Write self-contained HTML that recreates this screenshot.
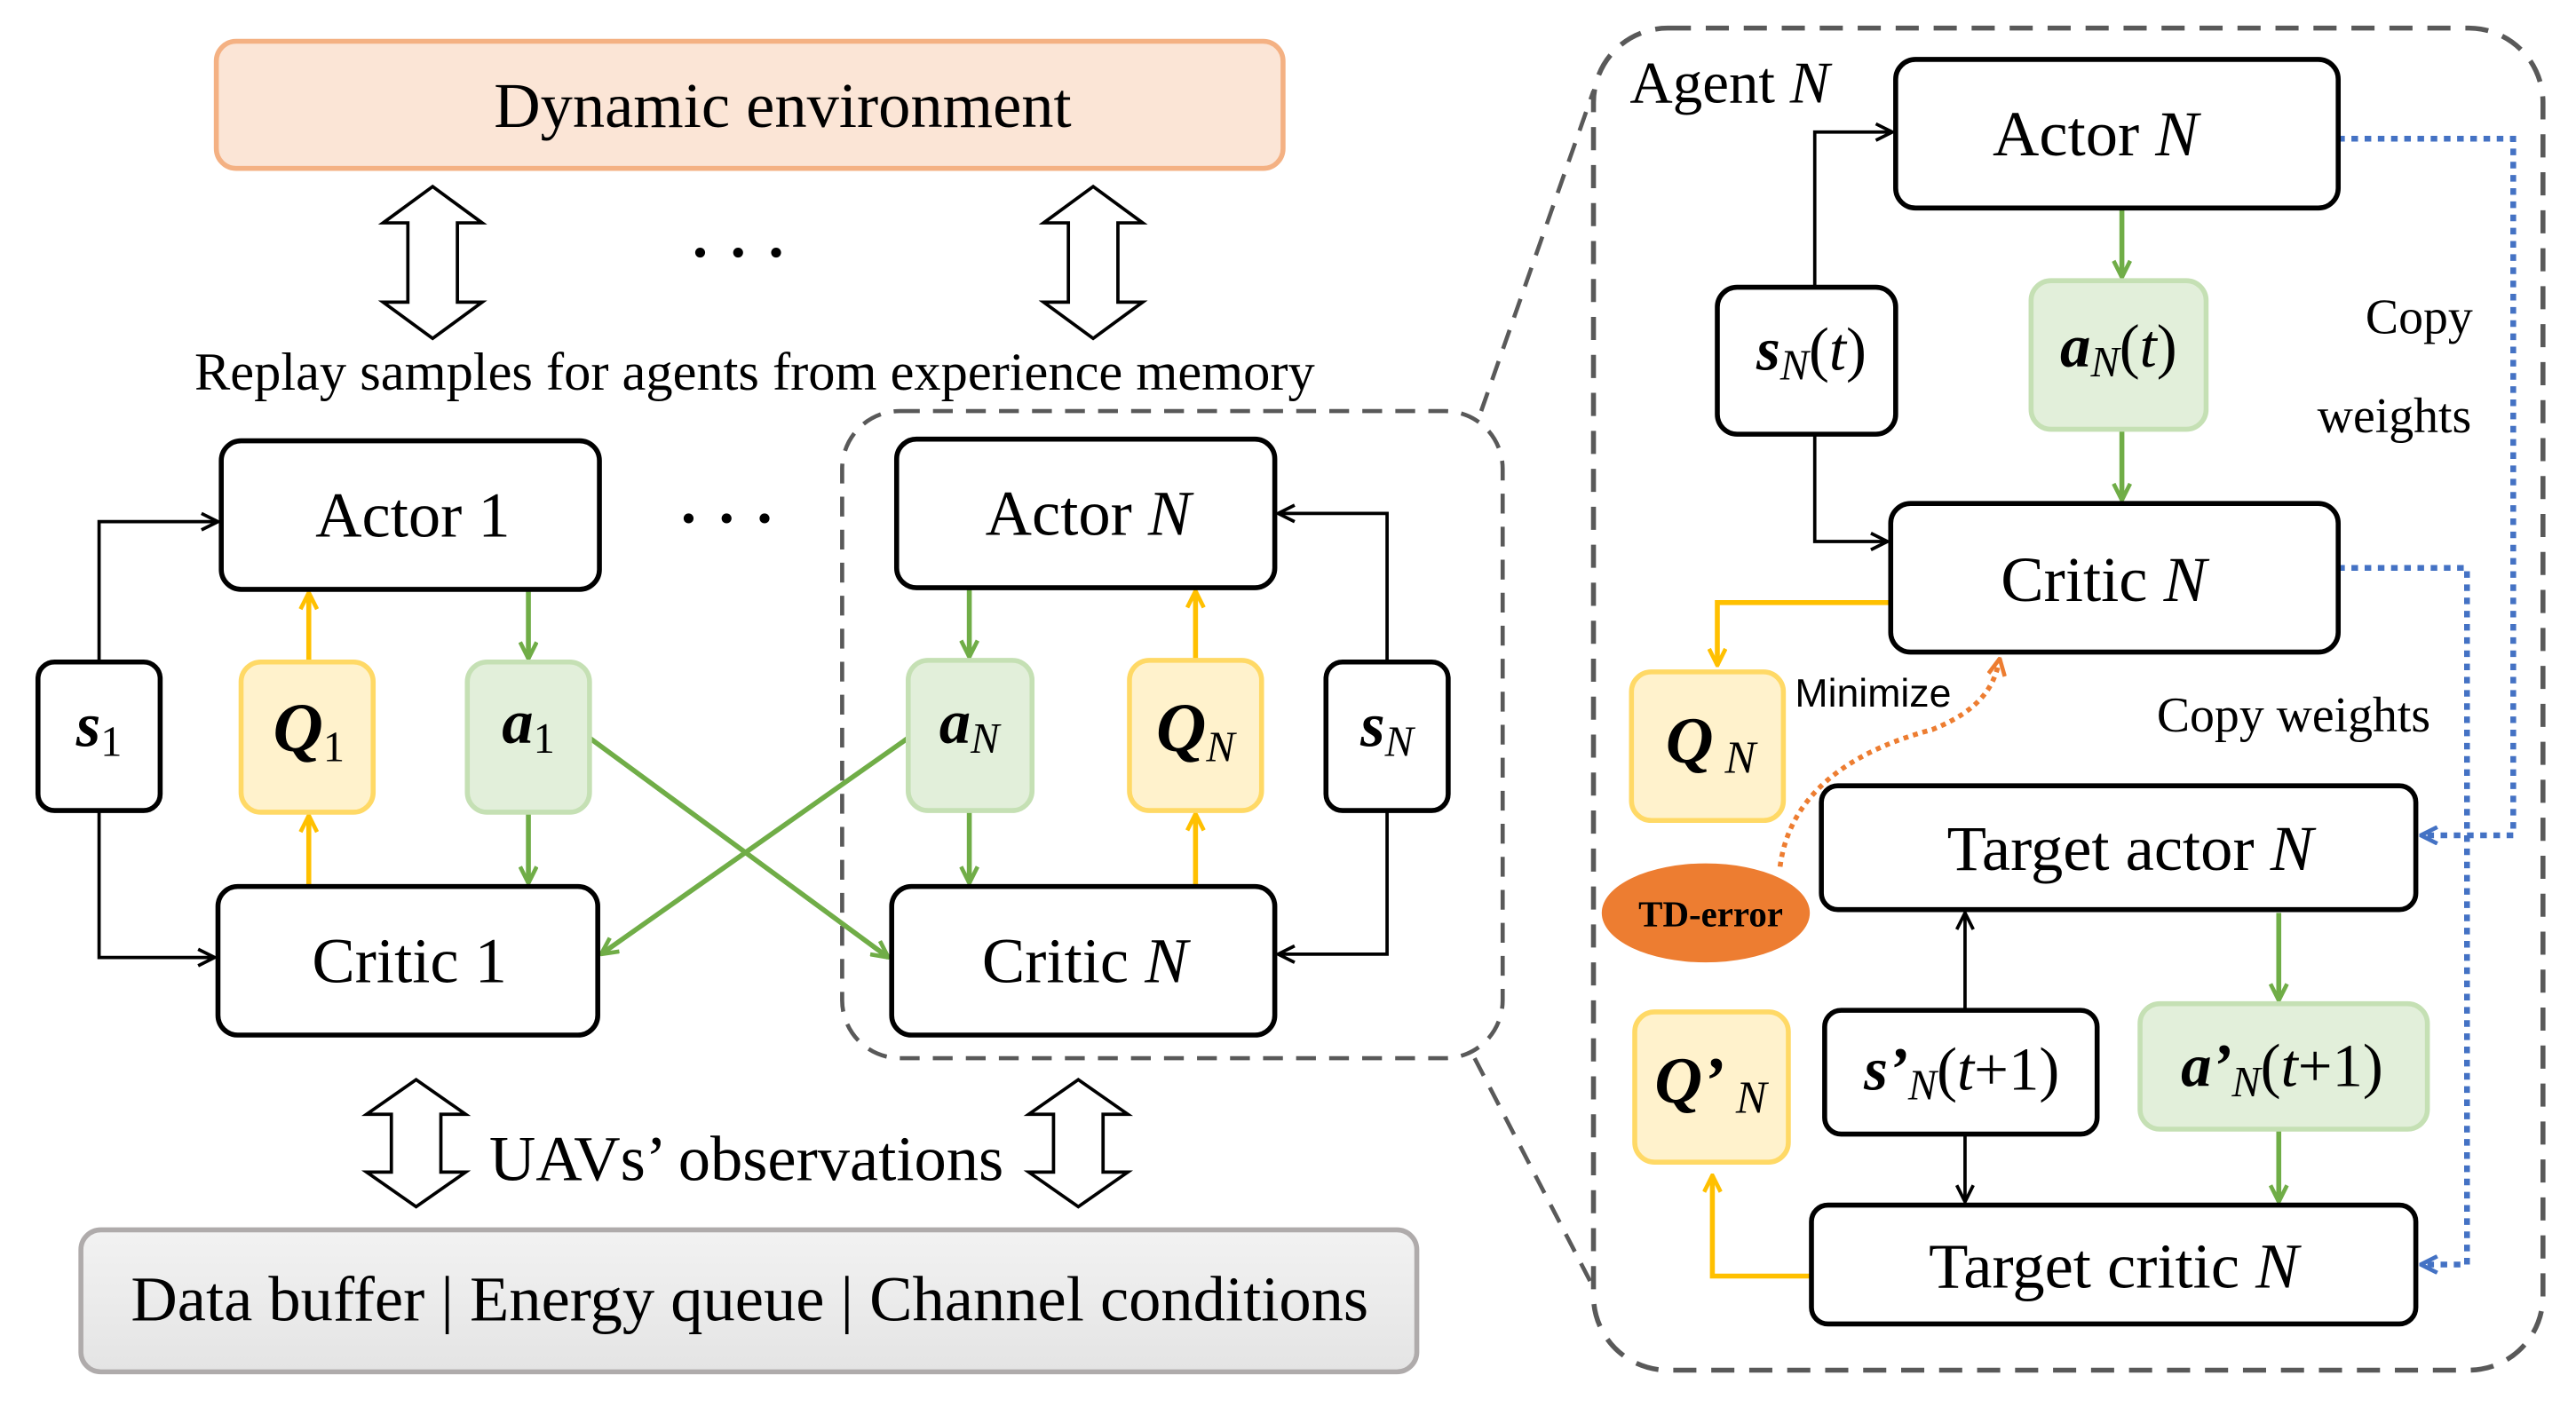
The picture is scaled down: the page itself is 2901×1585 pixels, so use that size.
<!DOCTYPE html>
<html><head><meta charset="utf-8"><style>
html,body{margin:0;padding:0;background:#fff}
svg{display:block}
text{font-family:"Liberation Serif",serif;fill:#000}
.s{font-family:"Liberation Sans",sans-serif}
</style></head><body>
<svg width="2901" height="1585" viewBox="0 0 1560 852.3" xmlns="http://www.w3.org/2000/svg">
<defs>
<marker id="ab" viewBox="0 0 12 12" refX="11" refY="6" markerWidth="12" markerHeight="12" markerUnits="userSpaceOnUse" orient="auto"><path d="M1,1 L11,6 L1,11" fill="none" stroke="#000" stroke-width="2"/></marker>
<marker id="ag" viewBox="0 0 12 12" refX="11" refY="6" markerWidth="12" markerHeight="12" markerUnits="userSpaceOnUse" orient="auto"><path d="M1,1 L11,6 L1,11" fill="none" stroke="#70ad47" stroke-width="2.5"/></marker>
<marker id="ay" viewBox="0 0 12 12" refX="11" refY="6" markerWidth="12" markerHeight="12" markerUnits="userSpaceOnUse" orient="auto"><path d="M1,1 L11,6 L1,11" fill="none" stroke="#ffc000" stroke-width="2.5"/></marker>
<marker id="au" viewBox="0 0 12 12" refX="11" refY="6" markerWidth="12" markerHeight="12" markerUnits="userSpaceOnUse" orient="auto"><path d="M1,1 L11,6 L1,11" fill="none" stroke="#4472c4" stroke-width="2.5"/></marker>
<marker id="ao" viewBox="0 0 12 12" refX="11" refY="6" markerWidth="12" markerHeight="12" markerUnits="userSpaceOnUse" orient="auto"><path d="M1,1 L11,6 L1,11" fill="none" stroke="#ed7d31" stroke-width="2.5"/></marker>
<linearGradient id="gr" x1="0" y1="0" x2="0" y2="1"><stop offset="0" stop-color="#f2f2f2"/><stop offset="1" stop-color="#e4e4e4"/></linearGradient>
</defs>

<rect x="131" y="25" width="646" height="77" rx="12" fill="#fbe5d6" stroke="#f4b183" stroke-width="3"/>
<text x="474" y="77" font-size="39" text-anchor="middle">Dynamic environment</text>
<g fill="#fff" stroke="#000" stroke-width="2">
<path d="M262,113 L292,135 L277,135 L277,183 L292,183 L262,205 L232,183 L247,183 L247,135 L232,135 Z"/>
<path d="M662,113 L692,135 L677,135 L677,183 L692,183 L662,205 L632,183 L647,183 L647,135 L632,135 Z"/>
<path d="M252,654 L282,675 L267,675 L267,710 L282,710 L252,731 L222,710 L237,710 L237,675 L222,675 Z"/>
<path d="M653,654 L683,675 L668,675 L668,710 L683,710 L653,731 L623,710 L638,710 L638,675 L623,675 Z"/>
</g>
<g fill="#000">
<circle cx="424" cy="153" r="3"/><circle cx="447" cy="153" r="3"/><circle cx="470" cy="153" r="3"/>
<circle cx="417" cy="314" r="3"/><circle cx="440" cy="314" r="3"/><circle cx="463" cy="314" r="3"/>
</g>
<text x="457" y="236" font-size="32.5" text-anchor="middle">Replay samples for agents from experience memory</text>

<rect x="510" y="249" width="400" height="392" rx="35" fill="none" stroke="#595959" stroke-width="2.5" stroke-dasharray="12,8"/>
<line x1="897" y1="249" x2="965" y2="55" stroke="#595959" stroke-width="2.5" stroke-dasharray="12,8"/>
<line x1="893" y1="641" x2="965" y2="780" stroke="#595959" stroke-width="2.5" stroke-dasharray="12,8"/>

<g fill="none" stroke="#000" stroke-width="2">
<path d="M60,401 V316 H132" marker-end="url(#ab)"/>
<path d="M60,491 V580 H130" marker-end="url(#ab)"/>
<path d="M840,401 V311 H774" marker-end="url(#ab)"/>
<path d="M840,491 V578 H774" marker-end="url(#ab)"/>
</g>
<g fill="none" stroke="#ffc000" stroke-width="3">
<path d="M187,401 V359" marker-end="url(#ay)"/>
<path d="M187,537 V494" marker-end="url(#ay)"/>
<path d="M724,400 V358" marker-end="url(#ay)"/>
<path d="M724,537 V493" marker-end="url(#ay)"/>
</g>
<g fill="none" stroke="#70ad47" stroke-width="3">
<path d="M320,357 V399" marker-end="url(#ag)"/>
<path d="M320,492 V535" marker-end="url(#ag)"/>
<path d="M587,356 V398" marker-end="url(#ag)"/>
<path d="M587,491 V535" marker-end="url(#ag)"/>
<path d="M357,447 L538,580" marker-end="url(#ag)"/>
<path d="M550,447 L364,578" marker-end="url(#ag)"/>
</g>

<g stroke="#000" stroke-width="3" fill="#fff">
<rect x="134" y="267" width="229" height="90" rx="12"/>
<rect x="132" y="537" width="230" height="90" rx="12"/>
<rect x="543" y="266" width="229" height="90" rx="12"/>
<rect x="540" y="537" width="232" height="90" rx="12"/>
<rect x="23" y="401" width="74" height="90" rx="10"/>
<rect x="803" y="401" width="74" height="90" rx="10"/>
</g>
<g stroke="#ffd966" stroke-width="3" fill="#fff2cc">
<rect x="146" y="401" width="80" height="91" rx="12"/>
<rect x="684" y="400" width="80" height="91" rx="12"/>
</g>
<g stroke="#c5e0b4" stroke-width="3" fill="#e2efda">
<rect x="283" y="401" width="74" height="91" rx="12"/>
<rect x="550" y="400" width="75" height="91" rx="12"/>
</g>
<g font-size="39" text-anchor="middle">
<text x="250" y="325">Actor 1</text>
<text x="248" y="595">Critic 1</text>
<text x="659" y="324">Actor <tspan font-style="italic">N</tspan></text>
<text x="657" y="595">Critic <tspan font-style="italic">N</tspan></text>
</g>
<g font-size="38" text-anchor="middle">
<text x="60" y="452"><tspan font-weight="bold" font-style="italic">s</tspan><tspan font-size="26" dy="6">1</tspan></text>
<text x="840" y="452"><tspan font-weight="bold" font-style="italic">s</tspan><tspan font-size="26" font-style="italic" dy="6">N</tspan></text>
<text x="187" y="455" font-size="42"><tspan font-weight="bold" font-style="italic">Q</tspan><tspan font-size="26" dy="6">1</tspan></text>
<text x="724" y="455" font-size="42"><tspan font-weight="bold" font-style="italic">Q</tspan><tspan font-size="26" font-style="italic" dy="6">N</tspan></text>
<text x="320" y="450"><tspan font-weight="bold" font-style="italic">a</tspan><tspan font-size="26" dy="6">1</tspan></text>
<text x="587" y="450"><tspan font-weight="bold" font-style="italic">a</tspan><tspan font-size="26" font-style="italic" dy="6">N</tspan></text>
</g>
<text x="452" y="715" font-size="39" text-anchor="middle">UAVs’ observations</text>
<rect x="49" y="745" width="809" height="86" rx="12" fill="url(#gr)" stroke="#afabab" stroke-width="3"/>
<text x="454" y="800" font-size="39" text-anchor="middle">Data buffer | Energy queue | Channel conditions</text>

<rect x="965" y="17" width="575" height="813" rx="45" fill="none" stroke="#595959" stroke-width="3" stroke-dasharray="14,9"/>
<text x="987" y="62" font-size="36">Agent <tspan font-style="italic">N</tspan></text>

<g fill="none" stroke="#000" stroke-width="2">
<path d="M1099,174 V80 H1146" marker-end="url(#ab)"/>
<path d="M1099,263 V328 H1143" marker-end="url(#ab)"/>
<path d="M1190,612 V553" marker-end="url(#ab)"/>
<path d="M1190,687 V728" marker-end="url(#ab)"/>
</g>
<g fill="none" stroke="#70ad47" stroke-width="3">
<path d="M1285,126 V168" marker-end="url(#ag)"/>
<path d="M1285,260 V303" marker-end="url(#ag)"/>
<path d="M1380,553 V606" marker-end="url(#ag)"/>
<path d="M1380,684 V728" marker-end="url(#ag)"/>
</g>
<g fill="none" stroke="#ffc000" stroke-width="3">
<path d="M1145,365 H1040 V403" marker-end="url(#ay)"/>
<path d="M1097,773 H1037 V712" marker-end="url(#ay)"/>
</g>
<g fill="none" stroke="#4472c4" stroke-width="3.5" stroke-dasharray="4,4">
<path d="M1416,84 H1522 V506 H1466" marker-end="url(#au)"/>
<path d="M1416,344 H1494 V766 H1466" marker-end="url(#au)"/>
</g>
<path d="M1078,525 C1085,470 1140,450 1170,442 C1200,430 1208,415 1211,399" fill="none" stroke="#ed7d31" stroke-width="3" stroke-dasharray="3,3" marker-end="url(#ao)"/>

<g stroke="#000" stroke-width="3" fill="#fff">
<rect x="1148" y="36" width="268" height="90" rx="12"/>
<rect x="1040" y="174" width="108" height="89" rx="12"/>
<rect x="1145" y="305" width="271" height="90" rx="12"/>
<rect x="1103" y="476" width="360" height="75" rx="10"/>
<rect x="1105" y="612" width="165" height="75" rx="10"/>
<rect x="1097" y="730" width="366" height="72" rx="10"/>
</g>
<rect x="1230" y="170" width="106" height="90" rx="12" fill="#e2efda" stroke="#c5e0b4" stroke-width="3"/>
<rect x="1296" y="608" width="174" height="76" rx="12" fill="#e2efda" stroke="#c5e0b4" stroke-width="3"/>
<rect x="988" y="407" width="92" height="90" rx="12" fill="#fff2cc" stroke="#ffd966" stroke-width="3"/>
<rect x="990" y="613" width="93" height="91" rx="12" fill="#fff2cc" stroke="#ffd966" stroke-width="3"/>
<ellipse cx="1033" cy="553" rx="63" ry="30" fill="#ed7d31"/>
<text x="1036" y="561" font-size="22" font-weight="bold" text-anchor="middle">TD-error</text>

<g font-size="39" text-anchor="middle">
<text x="1269" y="94">Actor <tspan font-style="italic">N</tspan></text>
<text x="1274" y="364">Critic <tspan font-style="italic">N</tspan></text>
<text x="1290" y="527">Target actor <tspan font-style="italic">N</tspan></text>
<text x="1280" y="780">Target critic <tspan font-style="italic">N</tspan></text>
</g>
<g font-size="37" text-anchor="middle">
<text x="1097" y="224"><tspan font-weight="bold" font-style="italic">s</tspan><tspan font-size="26" font-style="italic" dy="6">N</tspan><tspan dy="-6">(</tspan><tspan font-style="italic">t</tspan>)</text>
<text x="1283" y="222"><tspan font-weight="bold" font-style="italic">a</tspan><tspan font-size="26" font-style="italic" dy="6">N</tspan><tspan dy="-6">(</tspan><tspan font-style="italic">t</tspan>)</text>
<text x="1188" y="660"><tspan font-weight="bold" font-style="italic">s’</tspan><tspan font-size="26" font-style="italic" dy="6">N</tspan><tspan dy="-6">(</tspan><tspan font-style="italic">t</tspan>+1)</text>
<text x="1382" y="658"><tspan font-weight="bold" font-style="italic">a’</tspan><tspan font-size="26" font-style="italic" dy="6">N</tspan><tspan dy="-6">(</tspan><tspan font-style="italic">t</tspan>+1)</text>
<text x="1036" y="462" font-size="40"><tspan font-weight="bold" font-style="italic">Q</tspan><tspan font-size="28" font-style="italic" dy="6"> N</tspan></text>
<text x="1036" y="668" font-size="40"><tspan font-weight="bold" font-style="italic">Q’</tspan><tspan font-size="28" font-style="italic" dy="6"> N</tspan></text>
</g>
<text x="1087" y="428" font-size="24" class="s">Minimize</text>
<text x="1465" y="202" font-size="30" text-anchor="middle">Copy</text>
<text x="1450" y="262" font-size="30" text-anchor="middle">weights</text>
<text x="1389" y="443" font-size="30" text-anchor="middle">Copy weights</text>
</svg>
</body></html>
